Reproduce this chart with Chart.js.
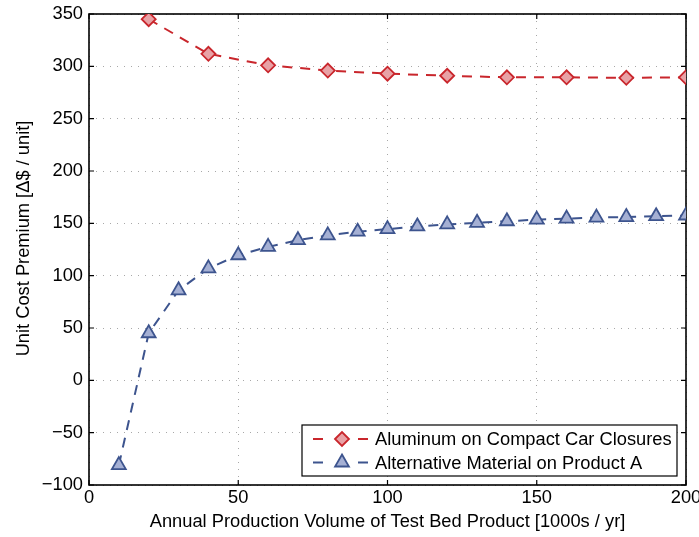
<!DOCTYPE html>
<html>
<head>
<meta charset="utf-8">
<script src="https://cdn.jsdelivr.net/npm/chart.js@4.4.1/dist/chart.umd.min.js"></script>
<style>
  html, body { margin: 0; padding: 0; background: #fff; }
  #wrap { width: 699px; height: 537px; }
</style>
</head>
<body>
<div id="wrap"><canvas id="c" width="699" height="537"></canvas></div>
<script>
// Annual production volume [1000s / yr]
const aluminumVolumes = [20, 40, 60, 80, 100, 120, 140, 160, 180, 200];
// Unit cost premium [Δ$ / unit]
const aluminumPremium = [345, 312, 301, 296, 293, 291, 289.5, 289.5, 289, 289.5];

const altVolumes = [10, 20, 30, 40, 50, 60, 70, 80, 90, 100, 110, 120, 130, 140, 150, 160, 170, 180, 190, 200];
const altPremium = [-81, 45, 86, 107, 119.5, 127.5, 134, 138.5, 142, 144.5, 147, 149, 150.5, 152, 153.5, 154.5, 155.5, 156, 156.8, 157.5];

const xTicks = [0, 50, 100, 150, 200];
const yTicks = [-100, -50, 0, 50, 100, 150, 200, 250, 300, 350];

const seriesNames = ['Aluminum on Compact Car Closures', 'Alternative Material on Product A'];
const xTitle = 'Annual Production Volume of Test Bed Product [1000s / yr]';
const yTitle = 'Unit Cost Premium [Δ$ / unit]';

const RED = '#c9262c', RED_FILL = '#e8a2a6';
const BLUE = '#3d548e', BLUE_FILL = '#a5b0d4';
const FONT = '"Liberation Sans", Arial, Helvetica, sans-serif';
const FS = 18.3;

function toPoints(xs, ys) { return xs.map((x, i) => ({ x: x, y: ys[i] })); }
// Negative tick values use a true minus sign
function fmtTick(v) { return v < 0 ? '\u2212' + Math.abs(v) : String(v); }

// Box frame, inward tick marks on all four sides, y-axis title and the legend box
const framePlugin = {
  id: 'frame',
  beforeDatasetsDraw(chart) {
    const { ctx, chartArea: a, scales: { x, y } } = chart;
    ctx.save();
    ctx.strokeStyle = '#000';
    ctx.lineWidth = 1.2;
    const tl = 5;
    ctx.beginPath();
    xTicks.forEach(v => {
      const px = x.getPixelForValue(v);
      ctx.moveTo(px, a.bottom); ctx.lineTo(px, a.bottom - tl);
      ctx.moveTo(px, a.top); ctx.lineTo(px, a.top + tl);
    });
    yTicks.forEach(v => {
      const py = y.getPixelForValue(v);
      ctx.moveTo(a.left, py); ctx.lineTo(a.left + tl, py);
      ctx.moveTo(a.right, py); ctx.lineTo(a.right - tl, py);
    });
    ctx.stroke();
    ctx.lineWidth = 1.6;
    ctx.strokeRect(a.left, a.top, a.right - a.left, a.bottom - a.top);

    // y-axis title
    ctx.translate(24, (a.top + a.bottom) / 2 - 11);
    ctx.rotate(-Math.PI / 2);
    ctx.fillStyle = '#000';
    ctx.font = FS + 'px ' + FONT;
    ctx.textAlign = 'center';
    ctx.textBaseline = 'middle';
    ctx.fillText(yTitle, 0, 0);
    ctx.restore();
  },
  afterDraw(chart) {
    const { ctx, chartArea: a } = chart;
    const bw = 375, bh = 51;
    const bx = a.right - 9 - bw, by = a.bottom - 9 - bh;
    ctx.save();
    ctx.fillStyle = '#fff';
    ctx.fillRect(bx, by, bw, bh);
    ctx.strokeStyle = '#000';
    ctx.lineWidth = 1.2;
    ctx.strokeRect(bx, by, bw, bh);
    const sets = chart.data.datasets;
    sets.forEach((ds, i) => {
      const cy = by + 14 + i * 23.5;
      ctx.strokeStyle = ds.borderColor;
      ctx.lineWidth = 2;
      ctx.beginPath();
      ctx.moveTo(bx + 11, cy); ctx.lineTo(bx + 21, cy);
      ctx.moveTo(bx + 56, cy); ctx.lineTo(bx + 66, cy);
      ctx.stroke();
      ctx.fillStyle = ds.pointBackgroundColor;
      ctx.strokeStyle = ds.borderColor;
      ctx.lineWidth = 1.8;
      Chart.helpers.drawPoint(ctx, { pointStyle: ds.pointStyle, radius: ds.pointRadius, borderWidth: 1.8 }, bx + 40, cy);
      ctx.fillStyle = '#000';
      ctx.font = FS + 'px ' + FONT;
      ctx.textBaseline = 'middle';
      ctx.textAlign = 'left';
      ctx.fillText(ds.label, bx + 73, cy + 1);
    });
    ctx.restore();
  }
};

new Chart(document.getElementById('c'), {
  type: 'line',
  data: {
    datasets: [
      {
        label: seriesNames[0],
        data: toPoints(aluminumVolumes, aluminumPremium),
        borderColor: RED,
        backgroundColor: RED_FILL,
        pointBackgroundColor: RED_FILL,
        pointBorderColor: RED,
        pointStyle: 'rectRot',
        pointRadius: 7,
        pointBorderWidth: 1.8,
        borderWidth: 2,
        borderDash: [10, 8],
        tension: 0,
        fill: false
      },
      {
        label: seriesNames[1],
        data: toPoints(altVolumes, altPremium),
        borderColor: BLUE,
        backgroundColor: BLUE_FILL,
        pointBackgroundColor: BLUE_FILL,
        pointBorderColor: BLUE,
        pointStyle: 'triangle',
        pointRadius: 8,
        pointBorderWidth: 1.8,
        borderWidth: 2,
        borderDash: [10, 8],
        tension: 0,
        fill: false
      }
    ]
  },
  options: {
    responsive: false,
    animation: false,
    layout: { padding: { top: 14, right: 13, left: 0, bottom: 0 } },
    plugins: {
      legend: { display: false },
      tooltip: { enabled: false }
    },
    scales: {
      x: {
        type: 'linear',
        min: 0, max: 200,
        afterBuildTicks: s => { s.ticks = xTicks.map(v => ({ value: v })); },
        afterFit: s => { s.height = 52; s.paddingLeft = 0; s.paddingRight = 0; },
        grid: { color: '#a8a8a8', lineWidth: 1, drawTicks: false },
        border: { display: false, dash: [1, 6] },
        ticks: { color: '#000', font: { family: FONT, size: FS }, padding: 2, maxRotation: 0, callback: fmtTick },
        title: { display: true, text: xTitle, color: '#000', font: { family: FONT, size: FS }, padding: { top: 0, bottom: 4 } }
      },
      y: {
        type: 'linear',
        min: -100, max: 350,
        afterBuildTicks: s => { s.ticks = yTicks.map(v => ({ value: v })); },
        afterFit: s => { s.width = 89; s.paddingTop = 0; s.paddingBottom = 0; },
        grid: { color: '#a8a8a8', lineWidth: 1, drawTicks: false },
        border: { display: false, dash: [1, 6] },
        ticks: { color: '#000', font: { family: FONT, size: FS }, padding: 6, callback: fmtTick }
      }
    }
  },
  plugins: [framePlugin]
});
</script>
</body>
</html>
